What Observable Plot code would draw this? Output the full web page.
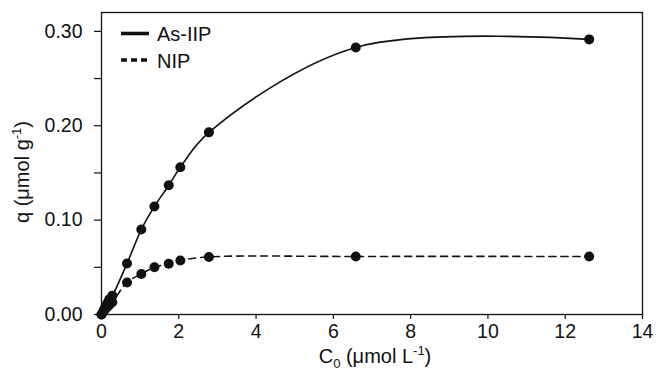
<!DOCTYPE html>
<html>
<head>
<meta charset="utf-8">
<script src="https://cdn.jsdelivr.net/npm/d3@7"></script>
<script src="https://cdn.jsdelivr.net/npm/@observablehq/plot@0.6"></script>
<style>
  html, body { margin: 0; padding: 0; background: #fff; }
  svg { font-family: "Liberation Sans", Arial, sans-serif; }
</style>
</head>
<body>
<div id="chart"></div>
<script>
const c0Iip = [0, 0.05, 0.1, 0.15, 0.2, 0.28, 0.66, 1.03, 1.37, 1.74, 2.04, 2.78, 6.58, 12.62];
const qIip  = [0, 0.004, 0.008, 0.012, 0.016, 0.020, 0.054, 0.090, 0.1145, 0.137, 0.156, 0.193, 0.283, 0.2915];
const c0Nip = [0, 0.05, 0.1, 0.15, 0.2, 0.28, 0.66, 1.03, 1.37, 1.74, 2.04, 2.78, 6.58, 12.62];
const qNip  = [0, 0.003, 0.006, 0.008, 0.010, 0.013, 0.034, 0.043, 0.050, 0.0537, 0.0573, 0.061, 0.0615, 0.0615];
const xTicks = [0, 2, 4, 6, 8, 10, 12, 14];
const yTicks = [0, 0.10, 0.20, 0.30];
const yMinor = [0.05, 0.15, 0.25];
const seriesNames = ["As-IIP", "NIP"];

const iip = c0Iip.map((x, i) => ({x, y: qIip[i]}));
const nip = c0Nip.map((x, i) => ({x, y: qNip[i]}));

const chart = Plot.plot({
  width: 656,
  height: 371,
  marginLeft: 101,
  marginRight: 14,
  marginTop: 12,
  marginBottom: 57,
  style: {fontFamily: '"Liberation Sans", Arial, sans-serif', color: "#111", background: "#fff"},
  x: {domain: [0, 14]},
  y: {domain: [0, 0.32]},
  marks: [
    Plot.frame({stroke: "#111", strokeWidth: 1.3}),
    Plot.axisX({ticks: xTicks, tickSize: 5, tickPadding: 5, fontSize: 19.5, label: null, stroke: "#111", strokeWidth: 1.2}),
    Plot.axisY({ticks: yTicks, tickSize: 7, tickPadding: 12, fontSize: 19.5, label: null, tickFormat: d3.format(".2f"), strokeWidth: 1.2}),
    Plot.axisY({ticks: yMinor, tickSize: 7, tickFormat: () => "", label: null, strokeWidth: 1.2}),
    Plot.line(iip, {x: "x", y: "y", curve: "catmull-rom", stroke: "#111", strokeWidth: 1.6}),
    Plot.line(nip, {x: "x", y: "y", curve: "catmull-rom", stroke: "#111", strokeWidth: 1.6, strokeDasharray: "7,5"}),
    Plot.dot(iip, {x: "x", y: "y", r: 5, fill: "#111"}),
    Plot.dot(nip, {x: "x", y: "y", r: 5, fill: "#111"})
  ]
});

document.getElementById("chart").appendChild(chart);

const svg = d3.select(chart);
// Axis titles
const yt = svg.append("text")
  .attr("transform", "translate(28.5,172) rotate(-90)")
  .attr("text-anchor", "middle")
  .style("font-size", "20px").attr("fill", "#111");
yt.append("tspan").text("q (μmol g");
yt.append("tspan").attr("dy", "-8").style("font-size", "13px").text("-1");
yt.append("tspan").attr("dy", "8").text(")");

const xt = svg.append("text")
  .attr("x", 375).attr("y", 363)
  .attr("text-anchor", "middle")
  .style("font-size", "20px").attr("fill", "#111");
xt.append("tspan").text("C");
xt.append("tspan").attr("dy", "5").style("font-size", "13px").text("0");
xt.append("tspan").attr("dy", "-5").text(" (μmol L");
xt.append("tspan").attr("dy", "-8").style("font-size", "13px").text("-1");
xt.append("tspan").attr("dy", "8").text(")");

// Legend
const lg = svg.append("g");
const rows = [{name: seriesNames[0], dash: null, y: 33.5}, {name: seriesNames[1], dash: "6,4", y: 60}];
rows.forEach(r => {
  lg.append("line").attr("x1", 121).attr("x2", 149).attr("y1", r.y).attr("y2", r.y)
    .attr("stroke", "#111").attr("stroke-width", 3.6)
    .attr("stroke-dasharray", r.dash);
  lg.append("text").attr("x", 157).attr("y", r.y + 7.5)
    .attr("text-anchor", "start")
    .style("font-size", "20px").attr("fill", "#111").text(r.name);
});
</script>
</body>
</html>
